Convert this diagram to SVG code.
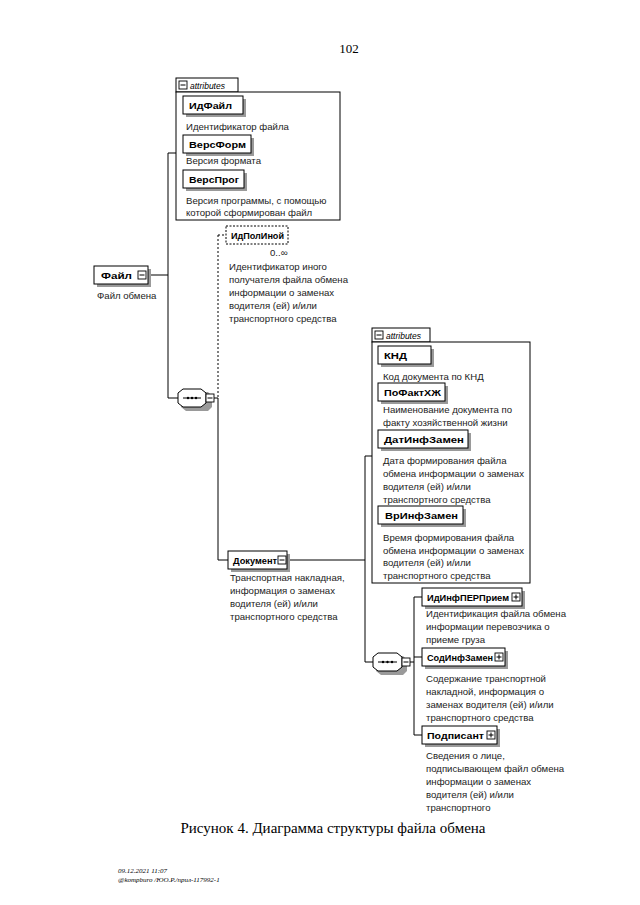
<svg xmlns="http://www.w3.org/2000/svg" width="640" height="905" viewBox="0 0 640 905">
<defs>
<style>
.bg{fill:#fff}
.lbl{font-family:"Liberation Sans",Arial,sans-serif;font-size:9.4px;font-weight:bold;fill:#000}
.dsc{font-family:"Liberation Sans",Arial,sans-serif;font-size:9.6px;fill:#222}
.att{font-family:"Liberation Sans",Arial,sans-serif;font-size:8.5px;font-style:italic;fill:#000}
.box{fill:#fff;stroke:#000;stroke-width:1}
.shd{fill:#9a9a9a}
.dash{fill:#fff;stroke:#000;stroke-width:1;stroke-dasharray:2 1.5}
.ln{stroke:#000;stroke-width:1;fill:none}
.lnd{stroke:#000;stroke-width:1;fill:none;stroke-dasharray:2 2}
.exp{fill:#fff;stroke:#000;stroke-width:0.9}
.serif{font-family:"Liberation Serif","Times New Roman",serif;fill:#000}
</style>
</defs>
<rect class="bg" x="0" y="0" width="640" height="905"/>
<text class="serif" x="349" y="53" font-size="13" text-anchor="middle">102</text>

<g id="connectors">
<line class="ln" x1="148" y1="275" x2="168" y2="275"/>
<line class="ln" x1="168" y1="153" x2="168" y2="398"/>
<line class="ln" x1="168" y1="153" x2="176" y2="153"/>
<line class="ln" x1="168" y1="398" x2="178" y2="398"/>
<line class="ln" x1="214" y1="398" x2="218" y2="398"/>
<line class="lnd" x1="218" y1="235" x2="218" y2="398"/>
<line class="lnd" x1="218" y1="235" x2="226" y2="235"/>
<line class="ln" x1="218" y1="398" x2="218" y2="560"/>
<line class="ln" x1="218" y1="560" x2="228" y2="560"/>
<line class="ln" x1="287" y1="560" x2="365" y2="560"/>
<line class="ln" x1="365" y1="456" x2="365" y2="662"/>
<line class="ln" x1="365" y1="456" x2="372" y2="456"/>
<line class="ln" x1="365" y1="662" x2="373" y2="662"/>
<line class="ln" x1="410" y1="662" x2="414" y2="662"/>
<line class="ln" x1="414" y1="597" x2="414" y2="735"/>
<line class="ln" x1="414" y1="597" x2="422" y2="597"/>
<line class="ln" x1="414" y1="657" x2="422" y2="657"/>
<line class="ln" x1="414" y1="735" x2="422" y2="735"/>
</g>

<g id="attrs-file">
<rect class="box" x="176" y="78" width="62" height="14"/>
<rect class="exp" x="179" y="81" width="8" height="8"/>
<line class="ln" x1="180.5" y1="85" x2="185.5" y2="85"/>
<text class="att" x="190" y="88.5">attributes</text>
<rect class="box" x="176" y="92" width="164" height="128"/>
</g>
<g id="ИдФайл">
<rect class="shd" x="186" y="99" width="60" height="18"/>
<rect class="box" x="183" y="96" width="60" height="18"/>
<text class="lbl" x="189" y="109" textLength="43" lengthAdjust="spacingAndGlyphs">ИдФайл</text>
<text class="dsc" x="186" y="130">Идентификатор файла</text>
</g>
<g id="ВерсФорм">
<rect class="shd" x="186" y="138" width="68" height="18"/>
<rect class="box" x="183" y="135" width="68" height="18"/>
<text class="lbl" x="189" y="148" textLength="57" lengthAdjust="spacingAndGlyphs">ВерсФорм</text>
<text class="dsc" x="186" y="164">Версия формата</text>
</g>
<g id="ВерсПрог">
<rect class="shd" x="186" y="173" width="61" height="18"/>
<rect class="box" x="183" y="170" width="61" height="18"/>
<text class="lbl" x="189" y="183" textLength="50" lengthAdjust="spacingAndGlyphs">ВерсПрог</text>
<text class="dsc" x="186" y="204">Версия программы, с помощью</text>
<text class="dsc" x="186" y="216">которой сформирован файл</text>
</g>

<g id="Файл">
<rect class="shd" x="97" y="269" width="54" height="18"/>
<rect class="box" x="94" y="266" width="54" height="18"/>
<text class="lbl" x="101" y="279" textLength="31" lengthAdjust="spacingAndGlyphs">Файл</text>
<rect class="exp" x="138" y="271" width="8" height="8"/>
<line class="ln" x1="139.5" y1="275" x2="144.5" y2="275"/>
<text class="dsc" x="97" y="299">Файл обмена</text>
</g>

<g id="seq1">
<path class="shd" d="M186,392 H208 L212,396 V407 L208,411 H186 L181,407 V396 Z"/>
<path class="box" d="M183,389 H201 L206,393 V403 L201,407 H183 L178,403 V393 Z"/>
<line class="ln" x1="183" y1="398" x2="201" y2="398"/>
<circle cx="188" cy="398" r="1.2"/><circle cx="192" cy="398" r="1.2"/><circle cx="196" cy="398" r="1.2"/>
<rect class="exp" x="206" y="394" width="8" height="8"/>
<line class="ln" x1="207.5" y1="398" x2="212.5" y2="398"/>
</g>

<g id="ИдПолИной">
<rect class="dash" x="226" y="226" width="62" height="18"/>
<text class="lbl" x="231" y="239" textLength="53" lengthAdjust="spacingAndGlyphs">ИдПолИной</text>
<text class="dsc" x="270" y="256" font-size="8.5">0..∞</text>
<text class="dsc" x="229" y="270">Идентификатор иного</text>
<text class="dsc" x="229" y="283">получателя файла обмена</text>
<text class="dsc" x="229" y="296">информации о заменах</text>
<text class="dsc" x="229" y="309">водителя (ей) и/или</text>
<text class="dsc" x="229" y="322">транспортного средства</text>
</g>

<g id="Документ">
<rect class="shd" x="231" y="554" width="59" height="18"/>
<rect class="box" x="228" y="551" width="59" height="18"/>
<text class="lbl" x="233" y="564" textLength="44" lengthAdjust="spacingAndGlyphs">Документ</text>
<rect class="exp" x="278" y="556" width="8" height="8"/>
<line class="ln" x1="279.5" y1="560" x2="284.5" y2="560"/>
<text class="dsc" x="230" y="581">Транспортная накладная,</text>
<text class="dsc" x="230" y="594">информация о заменах</text>
<text class="dsc" x="230" y="607">водителя (ей) и/или</text>
<text class="dsc" x="230" y="620">транспортного средства</text>
</g>

<g id="attrs-doc">
<rect class="box" x="372" y="328" width="58" height="14"/>
<rect class="exp" x="375" y="331" width="8" height="8"/>
<line class="ln" x1="376.5" y1="335" x2="381.5" y2="335"/>
<text class="att" x="386" y="338.5">attributes</text>
<rect class="box" x="372" y="342" width="158" height="241"/>
</g>
<g id="КНД">
<rect class="shd" x="381" y="349" width="53" height="18"/>
<rect class="box" x="378" y="346" width="53" height="18"/>
<text class="lbl" x="384" y="359" textLength="23" lengthAdjust="spacingAndGlyphs">КНД</text>
<text class="dsc" x="383" y="380">Код документа по КНД</text>
</g>
<g id="ПоФактХЖ">
<rect class="shd" x="381" y="386" width="67" height="18"/>
<rect class="box" x="378" y="383" width="67" height="18"/>
<text class="lbl" x="384" y="396" textLength="57" lengthAdjust="spacingAndGlyphs">ПоФактХЖ</text>
<text class="dsc" x="383" y="413">Наименование документа по</text>
<text class="dsc" x="383" y="426">факту хозяйственной жизни</text>
</g>
<g id="ДатИнфЗамен">
<rect class="shd" x="381" y="433" width="90" height="18"/>
<rect class="box" x="378" y="430" width="90" height="18"/>
<text class="lbl" x="384" y="443" textLength="80" lengthAdjust="spacingAndGlyphs">ДатИнфЗамен</text>
<text class="dsc" x="383" y="464">Дата формирования файла</text>
<text class="dsc" x="383" y="477">обмена информации о заменах</text>
<text class="dsc" x="383" y="490">водителя (ей) и/или</text>
<text class="dsc" x="383" y="503">транспортного средства</text>
</g>
<g id="ВрИнфЗамен">
<rect class="shd" x="381" y="509" width="85" height="18"/>
<rect class="box" x="378" y="506" width="85" height="18"/>
<text class="lbl" x="385" y="519" textLength="73" lengthAdjust="spacingAndGlyphs">ВрИнфЗамен</text>
<text class="dsc" x="383" y="541">Время формирования файла</text>
<text class="dsc" x="383" y="554">обмена информации о заменах</text>
<text class="dsc" x="383" y="566">водителя (ей) и/или</text>
<text class="dsc" x="383" y="579">транспортного средства</text>
</g>

<g id="seq2">
<path class="shd" d="M381,656 H403 L407,660 V671 L403,675 H381 L376,671 V660 Z"/>
<path class="box" d="M378,653 H397 L402,657 V667 L397,671 H378 L373,667 V657 Z"/>
<line class="ln" x1="378" y1="662" x2="397" y2="662"/>
<circle cx="383" cy="662" r="1.2"/><circle cx="387.5" cy="662" r="1.2"/><circle cx="392" cy="662" r="1.2"/>
<rect class="exp" x="402" y="658" width="8" height="8"/>
<line class="ln" x1="403.5" y1="662" x2="408.5" y2="662"/>
</g>

<g id="ИдИнфПЕРПрием">
<rect class="shd" x="425" y="591" width="100" height="18"/>
<rect class="box" x="422" y="588" width="100" height="18"/>
<text class="lbl" x="427" y="601" textLength="82" lengthAdjust="spacingAndGlyphs">ИдИнфПЕРПрием</text>
<rect class="exp" x="512" y="593" width="8" height="8"/>
<line class="ln" x1="513.5" y1="597" x2="518.5" y2="597"/>
<line class="ln" x1="516" y1="594.5" x2="516" y2="599.5"/>
<text class="dsc" x="426" y="617">Идентификация файла обмена</text>
<text class="dsc" x="426" y="630">информации перевозчика о</text>
<text class="dsc" x="426" y="643">приеме груза</text>
</g>
<g id="СодИнфЗамен">
<rect class="shd" x="425" y="651" width="83" height="18"/>
<rect class="box" x="422" y="648" width="83" height="18"/>
<text class="lbl" x="427" y="661" textLength="66" lengthAdjust="spacingAndGlyphs">СодИнфЗамен</text>
<rect class="exp" x="495" y="653" width="8" height="8"/>
<line class="ln" x1="496.5" y1="657" x2="501.5" y2="657"/>
<line class="ln" x1="499" y1="654.5" x2="499" y2="659.5"/>
<text class="dsc" x="426" y="682">Содержание транспортной</text>
<text class="dsc" x="426" y="695">накладной, информация о</text>
<text class="dsc" x="426" y="708">заменах водителя (ей) и/или</text>
<text class="dsc" x="426" y="721">транспортного средства</text>
</g>
<g id="Подписант">
<rect class="shd" x="425" y="729" width="75" height="18"/>
<rect class="box" x="422" y="726" width="75" height="18"/>
<text class="lbl" x="427" y="739" textLength="57" lengthAdjust="spacingAndGlyphs">Подписант</text>
<rect class="exp" x="487" y="731" width="8" height="8"/>
<line class="ln" x1="488.5" y1="735" x2="493.5" y2="735"/>
<line class="ln" x1="491" y1="732.5" x2="491" y2="737.5"/>
<text class="dsc" x="426" y="759">Сведения о лице,</text>
<text class="dsc" x="426" y="772">подписывающем файл обмена</text>
<text class="dsc" x="426" y="785">информации о заменах</text>
<text class="dsc" x="426" y="798">водителя (ей) и/или</text>
<text class="dsc" x="426" y="811">транспортного</text>
</g>

<text class="serif" x="333" y="833" font-size="15" text-anchor="middle">Рисунок 4. Диаграмма структуры файла обмена</text>
<text class="serif" x="118" y="873" font-size="7" font-style="italic" fill="#444">09.12.2021 11:07</text>
<text class="serif" x="118" y="882" font-size="7" font-style="italic" fill="#444">@kompburo /ЮО.Р./прил-117992-1</text>
</svg>
